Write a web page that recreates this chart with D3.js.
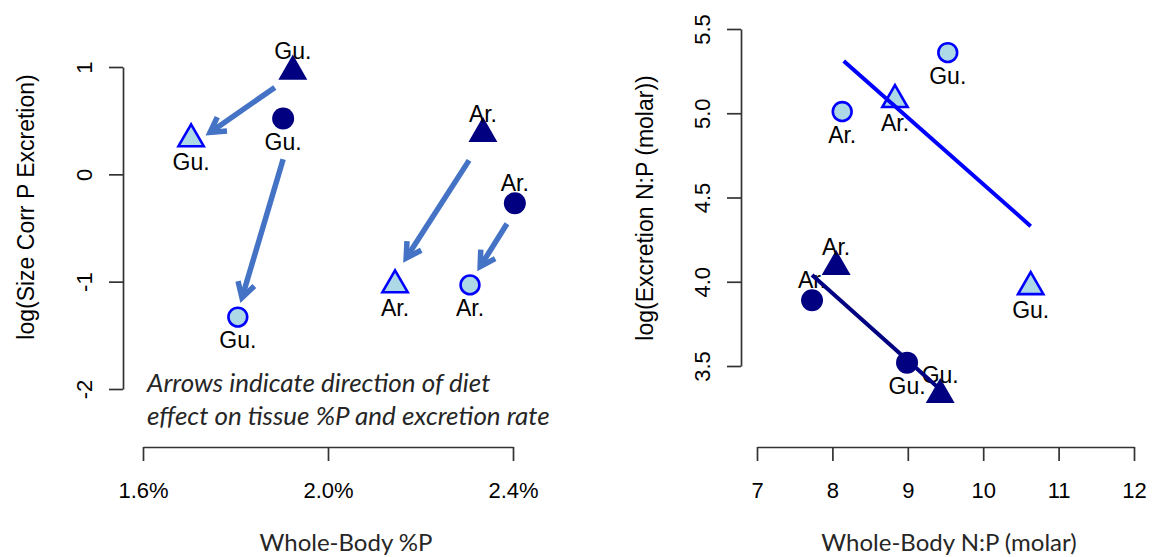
<!DOCTYPE html>
<html>
<head>
<meta charset="utf-8">
<script src="https://cdn.jsdelivr.net/npm/d3@7"></script>
<style>
  body { margin: 0; background: #fff; }
  svg { display: block; }
  .tick text { font-family: "Liberation Sans", Arial, sans-serif; font-size: 22px; fill: #000; }
  .domain, .tick line { stroke: #333; stroke-width: 1.7; }
  .ptlab { font-family: "Liberation Sans", Arial, sans-serif; font-size: 23px; fill: #000; }
  .ytitle { font-family: "Liberation Sans", Arial, sans-serif; font-size: 23px; fill: #000; }
  .xtitle { font-family: Lato, "Open Sans", sans-serif; font-size: 24px; fill: #262626; }
  .note { font-family: Lato, "Open Sans", sans-serif; font-style: italic; font-size: 26px; fill: #262626; }
</style>
</head>
<body>
<svg id="chart" width="1160" height="557"></svg>
<script>
// left panel: whole-body %P vs size corrected P excretion
const leftSite  = ["Gu.", "Gu.", "Gu.", "Gu.", "Ar.", "Ar.", "Ar.", "Ar."];
const leftShape = ["triangle", "circle", "triangle", "circle", "triangle", "circle", "triangle", "circle"];
const leftDiet  = ["dark", "dark", "light", "light", "dark", "dark", "light", "light"];
const leftPctP  = [1.924, 1.903, 1.704, 1.805, 2.335, 2.404, 2.145, 2.307];
const leftExcr  = [0.96, 0.52, 0.33, -1.33, 0.38, -0.27, -1.03, -1.03];
const leftLabelPos = ["above", "below", "below", "below", "above", "above", "below", "below"];
const leftXTicks = [1.6, 2.0, 2.4];
const leftYTicks = [-2, -1, 0, 1];

// arrows (diet effect)
const arrowFromX = [1.885, 1.903, 2.305, 2.387];
const arrowFromY = [0.81, 0.14, 0.13, -0.46];
const arrowToX   = [1.745, 1.814, 2.169, 2.329];
const arrowToY   = [0.39, -1.15, -0.78, -0.86];

// right panel: whole-body N:P vs excretion N:P
const rightSite  = ["Ar.", "Ar.", "Gu.", "Gu.", "Ar.", "Ar.", "Gu.", "Gu."];
const rightShape = ["circle", "triangle", "circle", "triangle", "triangle", "circle", "circle", "triangle"];
const rightDiet  = ["light", "light", "light", "light", "dark", "dark", "dark", "dark"];
const rightNP    = [8.13, 8.83, 9.53, 10.63, 8.05, 7.73, 8.99, 9.43];
const rightExcrNP = [5.01, 5.08, 5.36, 3.97, 4.09, 3.89, 3.52, 3.33];
const rightLabelPos = ["below", "below", "below", "below", "above", "above", "below", "above"];
const rightXTicks = [7, 8, 9, 10, 11, 12];
const rightYTicks = [3.5, 4.0, 4.5, 5.0, 5.5];

// fitted lines
const fitLightX = [8.15, 10.63], fitLightY = [5.31, 4.33];
const fitDarkX  = [7.73, 9.43],  fitDarkY  = [4.04, 3.36];

const FILL = { dark: "#000080", light: "#add8e6" };
const ARROW = "#4472c4";

const svg = d3.select("#chart");

function triPath(cx, cy, r) {
  const h = r * Math.sqrt(3) / 2;
  return "M" + cx + "," + (cy - r) + "L" + (cx + h) + "," + (cy + r / 2) + "L" + (cx - h) + "," + (cy + r / 2) + "Z";
}

function drawPanel(p) {
  const g = svg.append("g");

  // axes sit apart from the data, R style
  g.append("g")
    .attr("transform", "translate(0," + p.xAxisY + ")")
    .call(d3.axisBottom(p.x).tickValues(p.xTicks).tickSize(14).tickSizeOuter(0).tickFormat(p.xFmt))
    .call(a => a.selectAll(".tick text").attr("y", 43).attr("dy", "0.35em"));

  g.append("g")
    .attr("transform", "translate(" + p.yAxisX + ",0)")
    .call(d3.axisLeft(p.y).tickValues(p.yTicks).tickSize(14).tickSizeOuter(0).tickFormat(p.yFmt))
    .call(a => a.selectAll(".tick text")
      .attr("x", null).attr("dy", null)
      .attr("transform", "translate(-39,0) rotate(-90)")
      .attr("text-anchor", "middle")
      .attr("dominant-baseline", "central"));

  g.append("text").attr("class", "xtitle")
    .attr("x", p.xTitle[0]).attr("y", p.xTitle[1])
    .attr("text-anchor", "middle").attr("dominant-baseline", "central")
    .text(p.xLabel);

  g.append("text").attr("class", "ytitle")
    .attr("transform", "translate(" + p.yTitle[0] + "," + p.yTitle[1] + ") rotate(-90)")
    .attr("text-anchor", "middle").attr("dominant-baseline", "central")
    .text(p.yLabel);

  const pts = p.xs.map((v, i) => ({ x: v, y: p.ys[i], site: p.site[i], shape: p.shape[i], diet: p.diet[i], pos: p.pos[i] }));

  g.append("g").selectAll("circle").data(pts.filter(d => d.shape === "circle")).enter().append("circle")
    .attr("cx", d => p.x(d.x)).attr("cy", d => p.y(d.y))
    .attr("r", d => d.diet === "dark" ? 11 : 9.4)
    .attr("fill", d => FILL[d.diet])
    .attr("stroke", d => d.diet === "dark" ? "none" : "#0000ff")
    .attr("stroke-width", 2.6);

  g.append("g").selectAll("path").data(pts.filter(d => d.shape === "triangle")).enter().append("path")
    .attr("d", d => triPath(p.x(d.x), p.y(d.y), d.diet === "dark" ? 16.7 : 14.6))
    .attr("fill", d => FILL[d.diet])
    .attr("stroke", d => d.diet === "dark" ? "none" : "#0000ff")
    .attr("stroke-width", 2.6)
    .attr("stroke-linejoin", "miter");

  g.append("g").selectAll("text").data(pts).enter().append("text")
    .attr("class", "ptlab")
    .attr("x", d => p.x(d.x))
    .attr("y", d => p.y(d.y) + (d.pos === "above" ? -20 : 23))
    .attr("text-anchor", "middle").attr("dominant-baseline", "central")
    .text(d => d.site);

  return g;
}

const xL = d3.scaleLinear().domain([1.6, 2.4]).range([143, 513]);
const yL = d3.scaleLinear().domain([-2, 1]).range([389, 67]);

const left = drawPanel({
  x: xL, y: yL, xTicks: leftXTicks, yTicks: leftYTicks,
  xFmt: d => d.toFixed(1) + "%", yFmt: d => String(d),
  xAxisY: 447, yAxisX: 123,
  xLabel: "Whole-Body %P", xTitle: [346, 541],
  yLabel: "log(Size Corr P Excretion)", yTitle: [26, 207],
  xs: leftPctP, ys: leftExcr, site: leftSite, shape: leftShape, diet: leftDiet, pos: leftLabelPos
});

// arrows: shaft plus open head
const arrows = arrowFromX.map((v, i) => ({ x0: xL(v), y0: yL(arrowFromY[i]), x1: xL(arrowToX[i]), y1: yL(arrowToY[i]) }));
const ag = left.append("g").attr("fill", "none").attr("stroke", ARROW).attr("stroke-width", 5.5);
ag.selectAll("line").data(arrows).enter().append("line")
  .attr("x1", d => d.x0).attr("y1", d => d.y0)
  .attr("x2", d => d.x1).attr("y2", d => d.y1);
ag.selectAll("path").data(arrows).enter().append("path")
  .attr("stroke-linejoin", "miter")
  .attr("d", d => {
    const a = Math.atan2(d.y0 - d.y1, d.x0 - d.x1), L = 17, s = Math.PI / 6;
    return "M" + (d.x1 + L * Math.cos(a + s)) + "," + (d.y1 + L * Math.sin(a + s)) +
      "L" + d.x1 + "," + d.y1 +
      "L" + (d.x1 + L * Math.cos(a - s)) + "," + (d.y1 + L * Math.sin(a - s));
  });

left.append("text").attr("class", "note").attr("x", 147).attr("y", 382).attr("dominant-baseline", "central")
  .text("Arrows indicate direction of diet");
left.append("text").attr("class", "note").attr("x", 147).attr("y", 415).attr("dominant-baseline", "central")
  .text("effect on tissue %P and excretion rate");

const xR = d3.scaleLinear().domain([7, 12]).range([757, 1134]);
const yR = d3.scaleLinear().domain([3.5, 5.5]).range([366, 29]);

const right = drawPanel({
  x: xR, y: yR, xTicks: rightXTicks, yTicks: rightYTicks,
  xFmt: d => String(d), yFmt: d3.format(".1f"),
  xAxisY: 447, yAxisX: 741,
  xLabel: "Whole-Body N:P (molar)", xTitle: [949, 541],
  yLabel: "log(Excretion N:P (molar))", yTitle: [645, 208],
  xs: rightNP, ys: rightExcrNP, site: rightSite, shape: rightShape, diet: rightDiet, pos: rightLabelPos
});

const line = d3.line().x(d => xR(d[0])).y(d => yR(d[1]));
right.append("path").attr("d", line(fitLightX.map((v, i) => [v, fitLightY[i]])))
  .attr("fill", "none").attr("stroke", "#0000ff").attr("stroke-width", 4);
right.append("path").attr("d", line(fitDarkX.map((v, i) => [v, fitDarkY[i]])))
  .attr("fill", "none").attr("stroke", "#000080").attr("stroke-width", 4);
</script>
</body>
</html>
